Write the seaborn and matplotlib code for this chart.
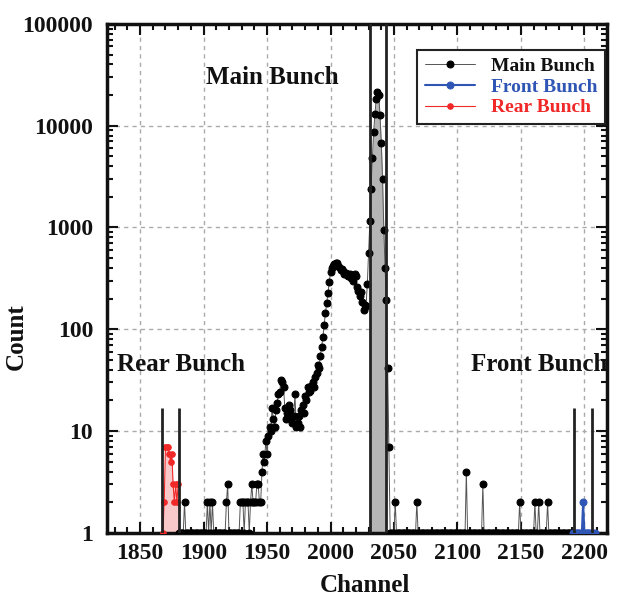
#!/usr/bin/env python3
"""
Bunch spectrum: count per channel with main / front / rear bunch windows
"""

import numpy as np
import pandas as pd
import matplotlib
matplotlib.use('Agg')
import matplotlib.pyplot as plt
import matplotlib.ticker as mticker
import seaborn as sns

# Main bunch counts, one value per channel starting at 1881
main_start = 1881
main_counts = [
    1, 1, 1, 1, 2, 1, 1, 1, 1, 1,
    1, 1, 1, 1, 1, 1, 1, 1, 1, 1,
    1, 1, 2, 1, 2, 1, 2, 1, 1, 1,
    1, 1, 1, 1, 1, 1, 1, 2, 3, 1,
    1, 1, 1, 1, 1, 1, 1, 1, 2, 2,
    2, 1, 2, 2, 2, 1, 2, 3, 2, 2,
    2, 3, 3, 2, 2, 4, 6, 5, 8, 6,
    9, 11, 10, 17, 13, 11, 16, 19, 23, 24,
    32, 30, 27, 17, 13, 15, 18, 16, 13, 12,
    14, 23, 11, 12, 14, 11, 16, 18, 15, 22,
    20, 27, 24, 25, 28, 30, 27, 34, 37, 45,
    42, 55, 67, 84, 110, 145, 180, 228, 290, 365,
    400, 420, 440, 450, 445, 420, 410, 380, 390, 370,
    350, 360, 340, 330, 350, 320, 340, 300, 350, 330,
    260, 240, 210, 230, 185, 155, 175, 170, 280, 560,
    1150, 2400, 4800, 8700, 13000, 18500, 21500, 20000, 12700, 6800,
    3000, 950, 400, 195, 42, 7, 1, 1, 1, 1,
    2, 1, 1, 1, 1, 1, 1, 1, 1, 1,
    1, 1, 1, 1, 1, 1, 1, 2, 1, 1,
    1, 1, 1, 1, 1, 1, 1, 1, 1, 1,
    1, 1, 1, 1, 1, 1, 1, 1, 1, 1,
    1, 1, 1, 1, 1, 1, 1, 1, 1, 1,
    1, 1, 1, 1, 1, 1, 4, 1, 1, 1,
    1, 1, 1, 1, 1, 1, 1, 1, 1, 3,
    1, 1, 1, 1, 1, 1, 1, 1, 1, 1,
    1, 1, 1, 1, 1, 1, 1, 1, 1, 1,
    1, 1, 1, 1, 1, 1, 1, 1, 2, 1,
    1, 1, 1, 1, 1, 1, 1, 1, 1, 1,
    2, 1, 1, 2, 1, 1, 1, 1, 1, 1,
    2, 1, 1, 1, 1, 1, 1, 1, 1, 1,
    1, 1, 1, 1, 1, 1, 1, 1, 1, 1,
]

# Rear bunch (red)
rear_start = 1868
rear_counts = [1, 2, 7, 7, 7, 6, 5, 6, 3, 2, 3, 2, 3]

# Front bunch (blue)
front_start = 2191
front_counts = [1, 1, 1, 1, 1, 1, 1, 1, 2, 1, 1, 1, 1, 1, 1, 1, 1, 1]

# Gate windows (channel limits) and gate line heights
main_gate = [2031, 2044]
rear_gate = [1867, 1881]
front_gate = [2192, 2206]
side_gate_height = 17

y_ticks = [1, 10, 100, 1000, 10000, 100000]
x_ticks = [1850, 1900, 1950, 2000, 2050, 2100, 2150, 2200]

main_df = pd.DataFrame({'Channel': np.arange(main_start, main_start + len(main_counts)),
                        'Count': main_counts})
rear_df = pd.DataFrame({'Channel': np.arange(rear_start, rear_start + len(rear_counts)),
                        'Count': rear_counts})
front_df = pd.DataFrame({'Channel': np.arange(front_start, front_start + len(front_counts)),
                         'Count': front_counts})

# Style
sns.set_theme(style='ticks')
plt.rcParams['font.family'] = ['Liberation Serif', 'DejaVu Serif']
plt.rcParams['font.weight'] = 'bold'
plt.rcParams['axes.labelweight'] = 'bold'
plt.rcParams['text.color'] = '#111111'
plt.rcParams['axes.labelcolor'] = '#111111'

fig = plt.figure(figsize=(6.19, 5.98), dpi=100)
ax = fig.add_axes([0.173, 0.109, 0.808, 0.851])
ax.set_yscale('log')

blue = '#2f55b5'
red = '#f02828'

# gray area under the main peak
peak = main_df[(main_df['Channel'] >= main_gate[0]) & (main_df['Channel'] <= main_gate[1])]
ax.fill_between(peak['Channel'], 1, peak['Count'], color='#b5b5b5', lw=0, zorder=1)
ax.fill_between(rear_df['Channel'], 1, rear_df['Count'], color='#f9c9c9', lw=0, zorder=1)

sns.lineplot(data=main_df, x='Channel', y='Count', ax=ax, color='#555555', lw=0.7,
             marker='o', markersize=5, markerfacecolor='black', markeredgecolor='black',
             estimator=None, sort=False, label='Main Bunch', zorder=3)
sns.lineplot(data=front_df, x='Channel', y='Count', ax=ax, color=blue, lw=1.5,
             marker='o', markersize=5, markerfacecolor=blue, markeredgecolor=blue,
             estimator=None, sort=False, label='Front Bunch', zorder=3)
sns.lineplot(data=rear_df, x='Channel', y='Count', ax=ax, color=red, lw=0.8,
             marker='o', markersize=4, markerfacecolor=red, markeredgecolor=red,
             estimator=None, sort=False, label='Rear Bunch', zorder=3)

# gate lines
for c in main_gate:
    ax.axvline(c, color='#222222', lw=2, zorder=4)
for c in rear_gate + front_gate:
    ax.vlines(c, 1, side_gate_height, color='#222222', lw=2, zorder=4)

ax.set_xlim(1824, 2218)
ax.set_ylim(1, 100000)
ax.set_xticks(x_ticks)
ax.xaxis.set_minor_locator(mticker.MultipleLocator(10))
ax.yaxis.set_major_locator(mticker.FixedLocator(y_ticks))
ax.yaxis.set_major_formatter(mticker.FixedFormatter([str(v) for v in y_ticks]))
ax.yaxis.set_minor_locator(mticker.LogLocator(base=10, subs=np.arange(2, 10)))
ax.yaxis.set_minor_formatter(mticker.NullFormatter())

ax.grid(True, which='major', ls=(0, (3, 3)), color='#aaaaaa', lw=1)
ax.tick_params(which='both', direction='in', top=True, right=True, width=1.5,
               color='#111111', labelcolor='#111111')
ax.tick_params(which='major', length=8, labelsize=17)
ax.tick_params(axis='y', which='major', pad=10)
ax.tick_params(axis='x', which='major', pad=7)
ax.tick_params(which='minor', length=4)
for s in ax.spines.values():
    s.set_linewidth(2.5)
    s.set_color('#111111')

ax.set_xlabel('Channel', fontsize=18)
ax.set_ylabel('Count', fontsize=18)
ax.xaxis.set_label_coords(0.516, -0.08)
ax.yaxis.set_label_coords(-0.158, 0.385)

ax.text(1954, 30000, 'Main Bunch', fontsize=18, ha='center', va='center')
ax.text(1882, 45, 'Rear Bunch', fontsize=18, ha='center', va='center')
ax.text(2164, 45, 'Front Bunch', fontsize=18, ha='center', va='center')

leg = ax.legend(loc='upper right', bbox_to_anchor=(0.996, 0.949), borderaxespad=0,
                fontsize=14, handlelength=2.6, labelspacing=0.15, fancybox=False,
                framealpha=1, edgecolor='#222222')
leg.get_frame().set_linewidth(1.5)
for t, c in zip(leg.get_texts(), ['#111111', blue, red]):
    t.set_color(c)

plt.savefig('out.png', dpi=100)
plt.close()
